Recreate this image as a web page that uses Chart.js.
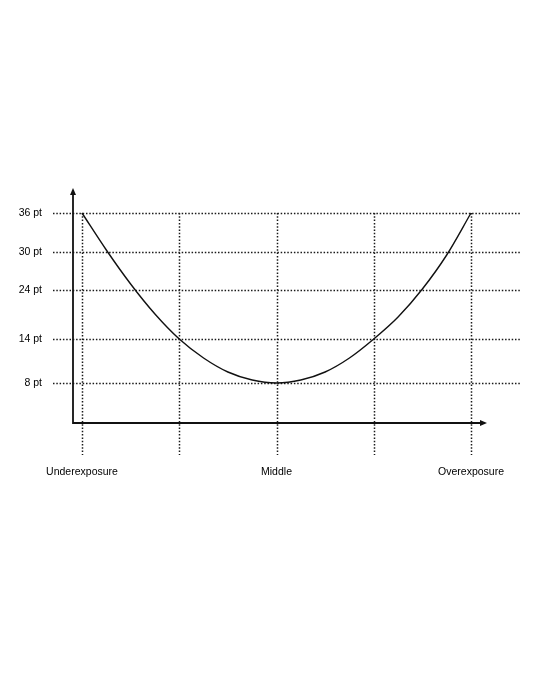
<!DOCTYPE html>
<html>
<head>
<meta charset="utf-8">
<script src="https://cdn.jsdelivr.net/npm/chart.js@4"></script>
<style>
  html, body { margin: 0; padding: 0; background: #fff; }
  #wrap { width: 544px; height: 680px; position: relative; }
</style>
</head>
<body>
<div id="wrap"><canvas id="curva"></canvas></div>
<script>
// Posiciones del eje x (exposición)
const xTicks = [0, 1, 2, 3, 4];
const xLabels = ["Underexposure", "", "Middle", "", "Overexposure"];

// Eje y: tamaños (posición en "niveles")
const sizeLabels = ["36 pt", "30 pt", "24 pt", "14 pt", "8 pt"];
const sizeLevels = [170, 131, 93, 44, 0];

// Curva en U
const curveX = [0, 0.25, 0.5, 0.75, 1, 1.25, 1.5, 1.75, 2, 2.25, 2.5, 2.75, 3, 3.25, 3.5, 3.75, 4];
const curveY = [170, 133, 99, 69, 44, 25, 11, 3, 0, 3, 11, 25, 44, 66, 94, 128, 170];

const puntos = curveX.map((x, i) => ({ x: x, y: curveY[i] }));

const FUENTE = '10.5px "Liberation Sans", Arial, sans-serif';

// Plugin: rejilla punteada, ejes con flechas y etiquetas
const dibujoEjes = {
  id: "dibujoEjes",
  beforeDatasetsDraw(chart) {
    const ctx = chart.ctx;
    const sx = chart.scales.x;
    const sy = chart.scales.y;
    const area = chart.chartArea;
    const yTop = sy.getPixelForValue(sizeLevels[0]);

    ctx.save();
    ctx.strokeStyle = "#1a1a1a";
    ctx.lineWidth = 1.5;
    ctx.setLineDash([1.5, 1.8]);

    // líneas horizontales
    sizeLevels.forEach(v => {
      const py = Math.round(sy.getPixelForValue(v)) + 0.5;
      ctx.beginPath();
      ctx.moveTo(53, py);
      ctx.lineTo(area.right, py);
      ctx.stroke();
    });

    // líneas verticales
    xTicks.forEach(v => {
      const px = Math.round(sx.getPixelForValue(v)) + 0.5;
      ctx.beginPath();
      ctx.moveTo(px, yTop);
      ctx.lineTo(px, 455);
      ctx.stroke();
    });
    ctx.restore();
  },
  afterDatasetsDraw(chart) {
    const ctx = chart.ctx;
    const sx = chart.scales.x;
    const sy = chart.scales.y;
    const area = chart.chartArea;

    ctx.save();
    ctx.strokeStyle = "#111";
    ctx.fillStyle = "#111";
    ctx.lineWidth = 1.8;
    ctx.setLineDash([]);

    const x0 = area.left;
    const y0 = area.bottom;
    const xEnd = 487;
    const yEnd = area.top;

    ctx.beginPath();
    ctx.moveTo(x0, y0);
    ctx.lineTo(x0, yEnd + 5);
    ctx.moveTo(x0 - 0.9, y0);
    ctx.lineTo(xEnd - 5, y0);
    ctx.stroke();

    // flechas
    ctx.beginPath();
    ctx.moveTo(x0, yEnd);
    ctx.lineTo(x0 - 3, yEnd + 7);
    ctx.lineTo(x0 + 3, yEnd + 7);
    ctx.closePath();
    ctx.fill();

    ctx.beginPath();
    ctx.moveTo(xEnd, y0);
    ctx.lineTo(xEnd - 7, y0 - 3);
    ctx.lineTo(xEnd - 7, y0 + 3);
    ctx.closePath();
    ctx.fill();

    // etiquetas
    ctx.fillStyle = "#000";
    ctx.font = FUENTE;
    ctx.textBaseline = "middle";
    ctx.textAlign = "right";
    sizeLevels.forEach((v, i) => {
      ctx.fillText(sizeLabels[i], 42, sy.getPixelForValue(v) + 0.5);
    });

    ctx.textAlign = "center";
    xTicks.forEach((v, i) => {
      if (xLabels[i]) ctx.fillText(xLabels[i], sx.getPixelForValue(v), 472);
    });
    ctx.restore();
  }
};

new Chart(document.getElementById("curva"), {
  type: "line",
  data: {
    datasets: [{
      data: puntos,
      borderColor: "#111",
      borderWidth: 1.4,
      pointRadius: 0,
      cubicInterpolationMode: "monotone",
      fill: false
    }]
  },
  options: {
    responsive: true,
    maintainAspectRatio: false,
    animation: false,
    layout: { padding: { left: 73, right: 23, top: 188, bottom: 257 } },
    scales: {
      x: { type: "linear", display: false, min: -0.0925, max: 4.514 },
      y: { type: "linear", display: false, min: -40, max: 195 }
    },
    plugins: {
      legend: { display: false },
      tooltip: { enabled: false }
    }
  },
  plugins: [dibujoEjes]
});
</script>
</body>
</html>
